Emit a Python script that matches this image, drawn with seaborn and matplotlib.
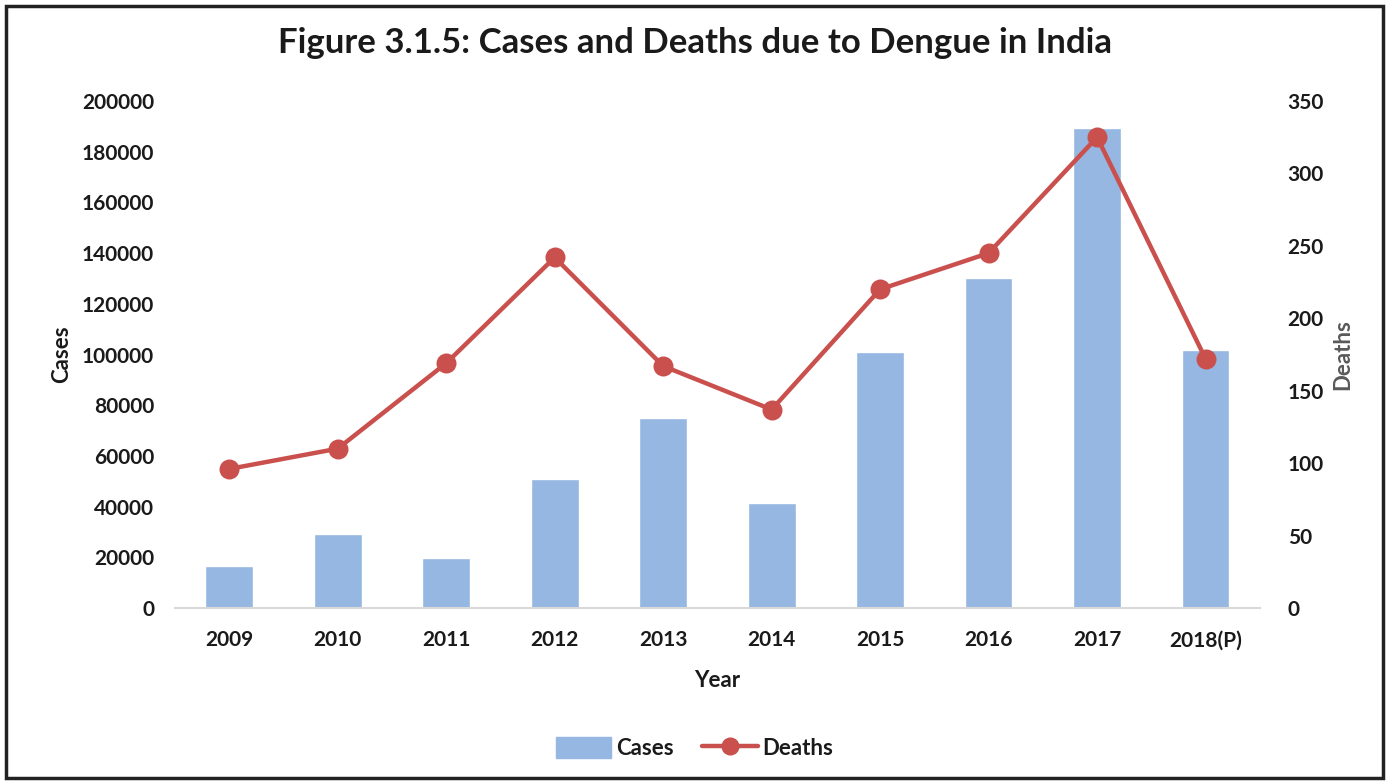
import matplotlib.pyplot as plt
import matplotlib.patches as mpatches
import pandas as pd
import seaborn as sns
from matplotlib.lines import Line2D

years = ["2009", "2010", "2011", "2012", "2013", "2014", "2015", "2016", "2017", "2018(P)"]
cases = [16600, 29200, 19700, 50900, 75000, 41400, 101000, 130200, 189300, 101800]
deaths = [96, 110, 169, 242, 167, 137, 220, 245, 325, 172]

bar_color = "#95B7E1"
line_color = "#C9504D"

df = pd.DataFrame({"Year": years, "Cases": cases, "Deaths": deaths})

sns.set_style("white")
plt.rcParams["font.family"] = ["Lato", "DejaVu Sans"]
plt.rcParams["font.weight"] = "bold"

fig = plt.figure(figsize=(13.89, 7.83), dpi=100)
ax = fig.add_axes([0.126, 0.2235, 0.781, 0.6475])

sns.barplot(data=df, x="Year", y="Cases", order=years, color=bar_color,
            width=0.44, saturation=1, ax=ax)

ax2 = ax.twinx()
sns.pointplot(data=df, x="Year", y="Deaths", order=years, color=line_color,
              errorbar=None, markersize=12, linewidth=3.2, ax=ax2)

ax.set_xlim(-0.5, 9.5)
ax2.set_xlim(-0.5, 9.5)
ax.set_ylim(0, 200000)
ax2.set_ylim(0, 350)
ax.set_yticks(range(0, 200001, 20000))
ax2.set_yticks(range(0, 351, 50))

for a in (ax, ax2):
    for s in a.spines.values():
        s.set_visible(False)
    a.tick_params(length=0, labelsize=15, labelcolor="#1a1a1a")
    for lab in a.get_xticklabels() + a.get_yticklabels():
        lab.set_fontweight("bold")
ax.spines["bottom"].set_visible(True)
ax.spines["bottom"].set_color("#D9D9D9")
ax.spines["bottom"].set_linewidth(1.5)
ax.tick_params(axis="x", pad=16)
ax.tick_params(axis="y", pad=15)
ax2.tick_params(axis="y", pad=20)

ax.set_xlabel("Year", fontsize=16, fontweight="bold", labelpad=14, color="#1a1a1a")
ax.set_ylabel("Cases", fontsize=16, fontweight="bold", labelpad=7, color="#1a1a1a")
ax2.set_ylabel("Deaths", fontsize=16, fontweight="bold", color="#595959", labelpad=6)

fig.suptitle("Figure 3.1.5: Cases and Deaths due to Dengue in India",
             fontsize=25, fontweight="bold", y=0.965, x=0.5, color="#1a1a1a")

handles = [
    mpatches.Patch(color=bar_color, label="Cases"),
    Line2D([], [], color=line_color, lw=3.2, marker="o", markersize=12, label="Deaths"),
]
fig.legend(handles=handles, loc="center", bbox_to_anchor=(0.5, 0.045), ncol=2,
           frameon=False, prop={"size": 16, "weight": "bold"},
           handlelength=2.5, handleheight=1.1, handletextpad=0.2, columnspacing=1.3,
           labelcolor="#1a1a1a")

fig.patches.append(mpatches.Rectangle((0.004, 0.006), 0.992, 0.986, fill=False,
                                      edgecolor="#222222", linewidth=2.5,
                                      transform=fig.transFigure, figure=fig))

fig.savefig("out.png", dpi=100)
